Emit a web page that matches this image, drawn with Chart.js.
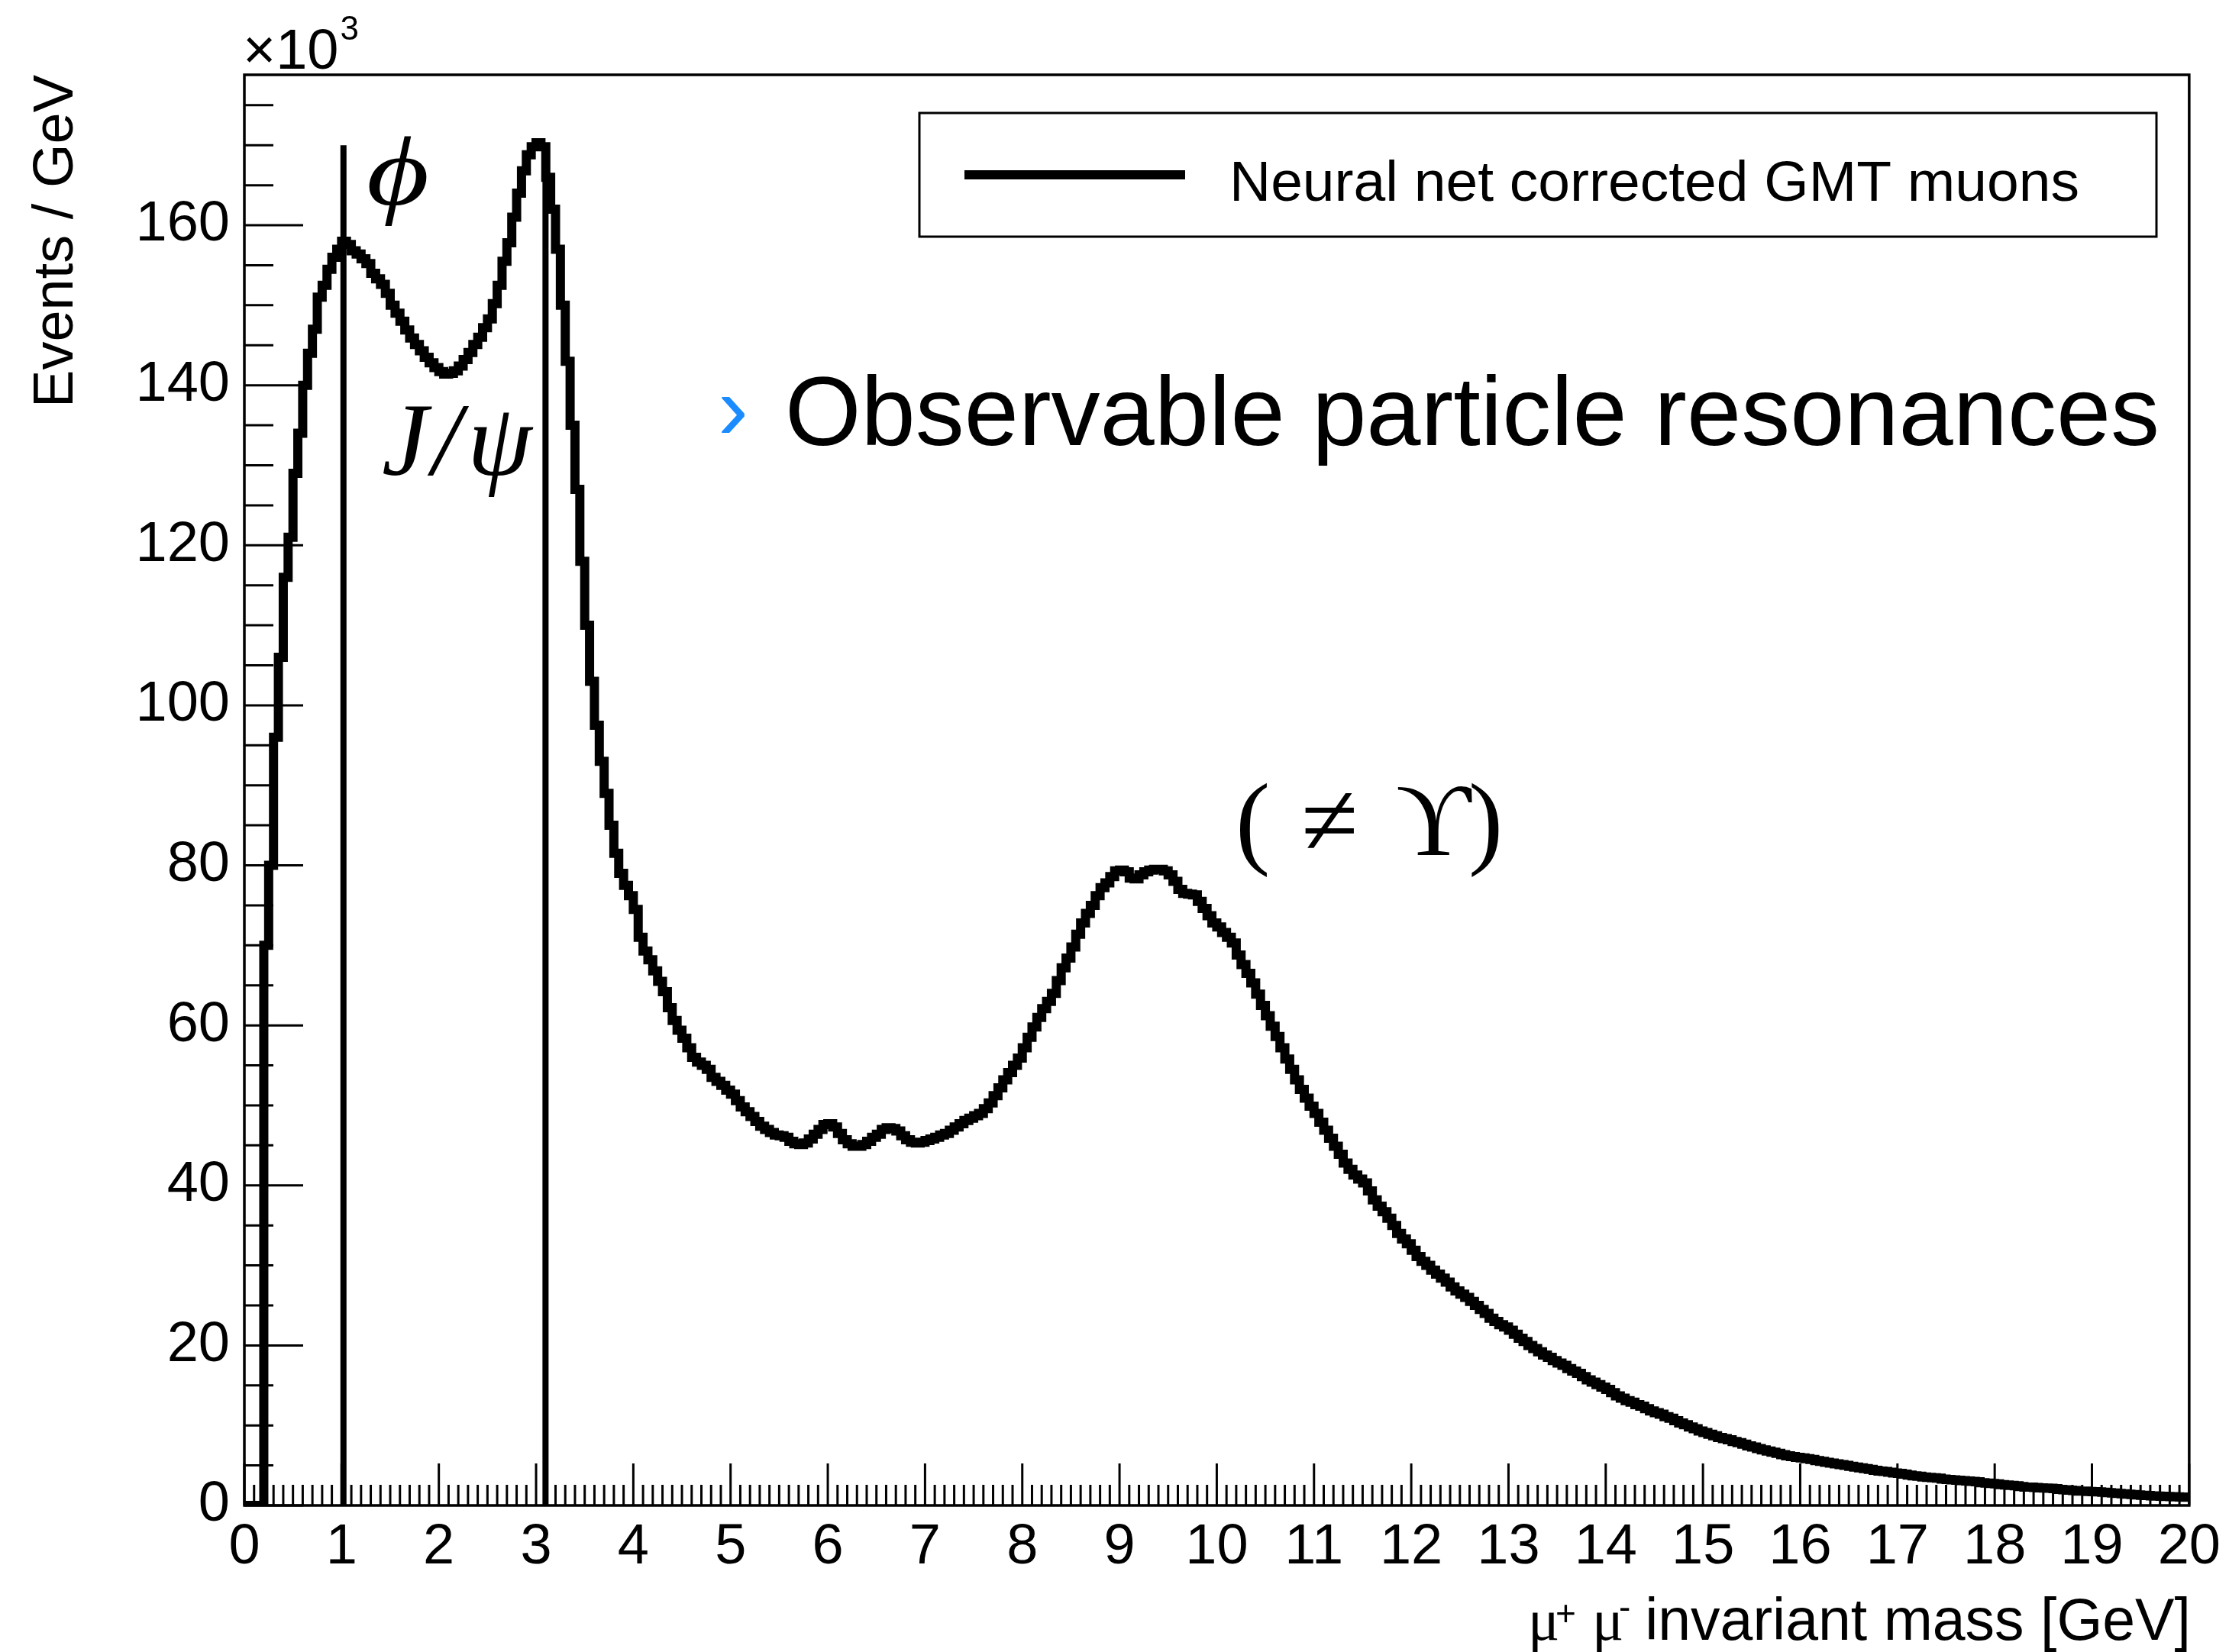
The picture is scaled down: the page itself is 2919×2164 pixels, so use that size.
<!DOCTYPE html>
<html>
<head>
<meta charset="utf-8">
<script src="https://cdn.jsdelivr.net/npm/chart.js@4.4.1/dist/chart.umd.min.js"></script>
<style>
  html, body { margin: 0; padding: 0; background: #ffffff; }
  canvas { display: block; }
</style>
</head>
<body>
<canvas id="c" width="2919" height="2164" style="width:2919px;height:2164px"></canvas>
<script>
// ---------------- data ----------------
// mu+ mu- invariant mass histogram, 0-20 GeV, 400 bins of 0.05 GeV
const massRange = [0, 20];
const nBins = 400;
// Events / GeV, in units of 10^3, one value per bin (row = 1 GeV)
const eventsK = [
  0,0,0,0,70,80,96,106,116,121,129,134,140,144,147,151,152.5,154.5,156,157,
  158,157.6,156.8,156.4,155.8,155.2,154,153.3,152.6,151.5,150,149,148,146.9,145.9,145.1,144.3,143.5,142.8,142.2,
  141.7,141.4,141.5,141.8,142.4,143.2,144.1,145.1,146,147.2,148.3,150.2,152.5,155.5,157.8,161,164,166.8,168.8,169.8,
  170.3,169.8,166,162,157,150,143,135,127,118,110,103,97.5,93,89,85,81.5,79,77.5,76.2,
  74.5,71,69.3,68.2,66.8,65.5,64.2,62.2,60.6,59.4,58.4,57.2,56,55.4,55,54.5,53.5,53,52.5,51.9,
  51.4,50.6,49.8,49.2,48.6,48,47.4,47,46.6,46.3,46.2,46,45.5,45.2,45.1,45.3,45.8,46.4,47,47.6,
  47.7,47.3,46.5,45.7,45.2,44.9,44.9,45.1,45.5,46,46.4,47,47.2,47.1,46.8,46.2,45.7,45.4,45.3,45.4,
  45.6,45.8,46,46.3,46.5,46.9,47.3,47.7,48.1,48.4,48.7,49,49.6,50.3,51.2,52.2,53.2,54.1,55,55.9,
  57.2,58.5,59.8,61,62.1,63,64,65.6,67.2,68.4,69.8,71.4,72.8,74,75,76.2,77.2,77.8,78.6,79.3,
  79.4,79.2,78.4,78.3,78.8,79.2,79.4,79.5,79.5,79.3,78.8,78,77,76.5,76.4,76.3,75.5,74.6,73.7,72.8,
  72.3,71.6,71,70.3,68.8,67.6,66.5,65.3,63.9,62.5,61.2,59.9,58.6,57.2,55.8,54.5,53.2,52,50.9,49.9,
  49,47.9,46.9,45.9,44.9,43.9,42.8,42,41.3,40.8,40.3,39.3,38.2,37.4,36.7,35.9,35,34,33.3,32.7,
  31.9,31.1,30.5,30,29.4,28.9,28.4,27.9,27.3,26.8,26.4,26,25.5,25,24.5,24,23.4,23,22.6,22.3,
  21.9,21.4,20.9,20.5,20,19.6,19.2,18.8,18.5,18.1,17.8,17.5,17.1,16.8,16.5,16.1,15.7,15.4,15.1,14.8,
  14.5,14.1,13.7,13.4,13.1,12.9,12.6,12.4,12.1,11.8,11.6,11.4,11.1,10.9,10.6,10.3,10.1,9.8,9.6,9.3,
  9.1,8.9,8.7,8.5,8.35,8.2,8,7.85,7.65,7.45,7.3,7.1,6.95,6.8,6.65,6.5,6.35,6.2,6.1,6,
  5.95,5.85,5.75,5.6,5.5,5.4,5.3,5.2,5.1,5,4.9,4.8,4.7,4.6,4.5,4.4,4.3,4.25,4.15,4.05,
  4,3.9,3.8,3.7,3.65,3.55,3.5,3.45,3.4,3.3,3.25,3.2,3.15,3.1,3.05,3,2.95,2.85,2.8,2.75,
  2.7,2.6,2.55,2.5,2.45,2.35,2.3,2.28,2.25,2.2,2.18,2.15,2.1,2,1.95,1.9,1.85,1.8,1.78,1.75,
  1.72,1.7,1.65,1.6,1.55,1.5,1.45,1.4,1.35,1.3,1.27,1.23,1.2,1.17,1.14,1.12,1.1,1.07,1.05,1.02
];
// resonance markers (GeV) and their drawn height (10^3)
const resonanceMasses = [1.019, 3.097];
const markerHeightK = [170, 170];
// axis definitions
const xTickValues = [0,1,2,3,4,5,6,7,8,9,10,11,12,13,14,15,16,17,18,19,20];
const yTickValues = [0,20,40,60,80,100,120,140,160];
const yMaxK = 178.8;
const seriesLabel = 'Neural net corrected GMT muons';

// ---------------- build datasets ----------------
const binWidth = (massRange[1] - massRange[0]) / nBins;
const histPoints = eventsK.map((v, i) => ({ x: massRange[0] + i * binWidth, y: v }));
histPoints.push({ x: massRange[1], y: eventsK[eventsK.length - 1] });

const markerSets = resonanceMasses.map((m, i) => ({
  label: 'marker' + i,
  data: [{ x: m, y: 0 }, { x: m, y: markerHeightK[i] }],
  borderColor: '#000', borderWidth: 8, pointRadius: 0, borderCapStyle: 'butt', fill: false
}));

const SANS = '"Liberation Sans", Arial, Helvetica, sans-serif';
const SERIF = '"Liberation Serif", "DejaVu Serif", "Times New Roman", serif';

// ---------------- ROOT-like decorations ----------------
const rootStyle = {
  id: 'rootStyle',
  beforeDatasetsDraw(chart) {
    const { ctx, chartArea: a, scales: { x, y } } = chart;
    ctx.save();
    ctx.strokeStyle = '#000';
    ctx.lineCap = 'butt';
    ctx.lineWidth = 3;
    ctx.beginPath();
    for (let k = 0; k * 5 <= y.max; k++) {
      const v = k * 5;
      const py = y.getPixelForValue(v);
      const len = (v % 20 === 0) ? 77 : 38;
      ctx.moveTo(a.left, py); ctx.lineTo(a.left + len, py);
    }
    for (let i = 0; i <= 200; i++) {
      const px = x.getPixelForValue(i / 10);
      const len = (i % 10 === 0) ? 55 : 27;
      ctx.moveTo(px, a.bottom); ctx.lineTo(px, a.bottom - len);
    }
    ctx.stroke();
    ctx.lineWidth = 3.5;
    ctx.strokeRect(a.left, a.top, a.right - a.left, a.bottom - a.top);
    ctx.restore();
  },
  afterDraw(chart) {
    const { ctx, chartArea: a } = chart;
    ctx.save();
    ctx.fillStyle = '#000';
    ctx.textBaseline = 'alphabetic';

    // x10^3
    ctx.textAlign = 'left';
    ctx.font = '74px ' + SANS;
    ctx.fillText('\u00D710', a.left - 2, 90);
    const w10 = ctx.measureText('\u00D710').width;
    ctx.font = '44px ' + SANS;
    ctx.fillText('3', a.left - 2 + w10 + 2, 52);

    // y title
    ctx.save();
    ctx.translate(95, a.top);
    ctx.rotate(-Math.PI / 2);
    ctx.textAlign = 'right';
    ctx.font = '74px ' + SANS;
    ctx.fillText('Events / GeV', 0, 0);
    ctx.restore();

    // x title
    ctx.textAlign = 'right';
    ctx.font = '77px ' + SANS;
    ctx.fillText('invariant mass [GeV]', a.right + 2, 2148);
    ctx.textAlign = 'left';
    ctx.font = '77px ' + SERIF;
    ctx.fillText('\u03BC', 2001, 2148);
    ctx.fillText('\u03BC', 2085, 2148);
    ctx.font = '46px ' + SANS;
    ctx.fillText('+', 2037, 2129);
    ctx.fillText('-', 2120, 2121);

    // legend
    ctx.lineWidth = 3;
    ctx.strokeStyle = '#000';
    ctx.strokeRect(1204, 148, 1620, 162);
    ctx.lineWidth = 12;
    ctx.beginPath(); ctx.moveTo(1263, 229); ctx.lineTo(1552, 229); ctx.stroke();
    ctx.font = '75px ' + SANS;
    ctx.fillText(seriesLabel, 1610, 263);

    // resonance labels
    ctx.font = 'italic 130px ' + SERIF;
    ctx.save();
    ctx.translate(480, 268);
    ctx.scale(1.22, 1);
    ctx.fillText('\u03D5', 0, 0);
    ctx.restore();
    ctx.font = 'italic 136px ' + SERIF;
    ctx.fillText('J', 500, 622);
    ctx.fillText('/', 566, 622);
    ctx.fillText('\u03C8', 612, 622);
    ctx.font = '136px ' + SERIF;
    ctx.fillText('(', 1618, 1120);
    ctx.fillText('\u2260', 1704, 1120);
    ctx.fillText('\u03D2', 1828, 1120);
    ctx.fillText(')', 1923, 1120);

    // slide overlay text
    ctx.fillStyle = '#1a8cff';
    ctx.font = '120px ' + SANS;
    ctx.fillText('\u203A', 940, 575);
    ctx.fillStyle = '#000';
    ctx.font = '128px ' + SANS;
    ctx.fillText('Observable particle resonances', 1028, 583);
    ctx.restore();
  }
};

new Chart(document.getElementById('c'), {
  type: 'line',
  data: {
    datasets: [
      {
        label: seriesLabel,
        data: histPoints,
        stepped: true,
        borderColor: '#000',
        borderWidth: 12,
        borderJoinStyle: 'miter',
        borderCapStyle: 'butt',
        pointRadius: 0,
        fill: false
      },
      ...markerSets
    ]
  },
  options: {
    responsive: false,
    animation: false,
    devicePixelRatio: 1,
    events: [],
    layout: { padding: { top: 98, right: 49, bottom: 0, left: 0 } },
    scales: {
      x: {
        type: 'linear',
        min: massRange[0], max: massRange[1],
        afterFit(s) { s.height = 192; },
        afterBuildTicks(s) { s.ticks = xTickValues.map(v => ({ value: v })); },
        ticks: {
          autoSkip: false, maxRotation: 0, minRotation: 0, color: '#000',
          font: { family: SANS, size: 74 }, padding: 11,
          callback: v => String(v)
        },
        grid: { display: false, drawTicks: false },
        border: { display: false }
      },
      y: {
        type: 'linear',
        min: 0, max: yMaxK,
        afterFit(s) { s.width = 320; },
        afterBuildTicks(s) { s.ticks = yTickValues.map(v => ({ value: v })); },
        ticks: {
          color: '#000', font: { family: SANS, size: 74 }, padding: 19,
          callback: v => String(v)
        },
        grid: { display: false, drawTicks: false },
        border: { display: false }
      }
    },
    plugins: { legend: { display: false }, tooltip: { enabled: false } }
  },
  plugins: [rootStyle]
});
</script>
</body>
</html>
